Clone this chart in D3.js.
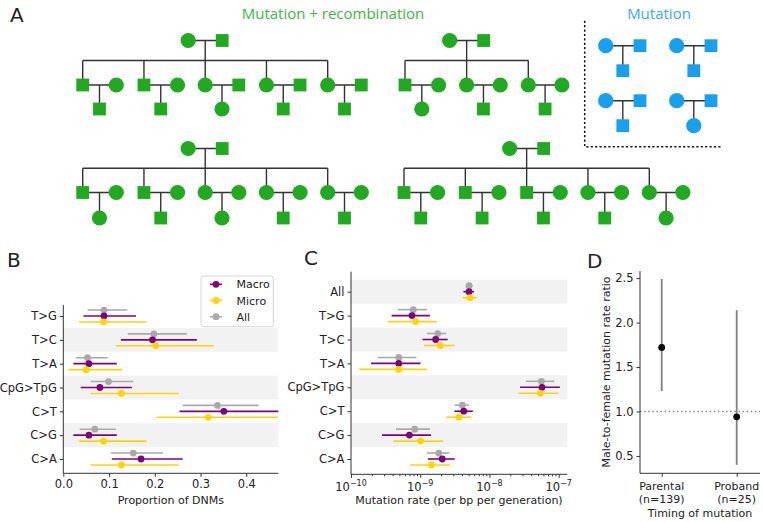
<!DOCTYPE html>
<html><head><meta charset="utf-8">
<script src="https://cdn.jsdelivr.net/npm/d3@7"></script>
<style>
body{margin:0;background:#fff}
text{font-family:"DejaVu Sans",sans-serif;fill:#222}
</style>
</head><body>
<svg id="fig" width="763" height="522"></svg>
<script>
// ---------------- DATA ----------------
// Panel A: pedigree structures (F = circle/female, M = square/male)
const pedChildren = [["M","M","F","F","F"],["M","F","F"],["M","M","F","F","F"],["M","M","M","F","F"]];
const pedSpouses  = [["F","F","M","M","M"],["F","F","F"],["F","F","F","F","F"],["F","F","F","F","F"]];
const pedGrandkids= [["M","M","F","M","M"],["F","M","M"],["F","M","F","M","M"],["M","M","M","M","F"]];
const trioChildren = ["M","M","M","F"];
const titleRecomb = "Mutation + recombination";
const titleMut = "Mutation";

// Panel B: proportion of DNMs
const catsB = ["T>G","T>C","T>A","CpG>TpG","C>T","C>G","C>A"];
const shadedRows = ["All","T>C","CpG>TpG","C>G"];
const seriesNames = ["Macro","Micro","All"];
const propAll     = [0.089,0.198,0.053,0.099,0.337,0.069,0.153];
const propAllLo   = [0.053,0.141,0.028,0.060,0.261,0.036,0.104];
const propAllHi   = [0.140,0.270,0.097,0.153,0.427,0.115,0.218];
const propMacro   = [0.089,0.195,0.056,0.080,0.351,0.056,0.170];
const propMacroLo = [0.044,0.126,0.022,0.038,0.254,0.022,0.106];
const propMacroHi = [0.159,0.292,0.117,0.150,0.480,0.117,0.261];
const propMicro   = [0.088,0.202,0.050,0.127,0.317,0.088,0.127];
const propMicroLo = [0.034,0.115,0.011,0.060,0.204,0.034,0.060];
const propMicroHi = [0.182,0.329,0.129,0.252,0.469,0.182,0.252];
const ticksB = [0.0,0.1,0.2,0.3,0.4];

// Panel C: mutation rate per bp per generation
const catsC = ["All","T>G","T>C","T>A","CpG>TpG","C>T","C>G","C>A"];
const rateAll     = [5.07e-9,7.94e-10,1.79e-9,4.89e-10,5.62e-8,4.06e-9,8.32e-10,1.85e-9];
const rateAllLo   = [4.54e-9,4.72e-10,1.25e-9,2.43e-10,3.37e-8,3.15e-9,4.47e-10,1.25e-9];
const rateAllHi   = [5.73e-9,1.25e-9,2.38e-9,8.79e-10,8.65e-8,5.07e-9,1.38e-9,2.61e-9];
const rateMacro   = [5.07e-9,7.60e-10,1.67e-9,4.89e-10,5.74e-8,4.25e-9,6.97e-10,2.08e-9];
const rateMacroLo = [4.20e-9,3.86e-10,1.08e-9,1.95e-10,2.76e-8,3.11e-9,2.81e-10,1.29e-9];
const rateMacroHi = [5.98e-9,1.38e-9,2.49e-9,1.01e-9,1.04e-7,5.73e-9,1.43e-9,3.15e-9];
const rateMicro   = [5.24e-9,8.60e-10,1.95e-9,4.89e-10,5.43e-8,3.63e-9,1.01e-9,1.45e-9];
const rateMicroLo = [4.10e-9,3.39e-10,1.13e-9,1.32e-10,2.61e-8,2.38e-9,4.09e-10,7.11e-10];
const rateMicroHi = [6.53e-9,1.75e-9,3.15e-9,1.25e-9,9.89e-8,5.41e-9,2.13e-9,2.69e-9];
const ticksC = [1e-10,1e-9,1e-8,1e-7];

// Panel D: male-to-female ratio
const catsD = ["Parental","Proband"];
const catsDsub = ["(n=139)","(n=25)"];
const ratio   = [1.72,0.94];
const ratioLo = [1.23,0.40];
const ratioHi = [2.49,2.14];
const ticksD = [0.5,1.0,1.5,2.0,2.5];

// ---------------- STYLE ----------------
const GREEN="#1faa1f", BLUE="#17a0ee", LINE="#333";
const colMacro="#800080", colMicro="#ffd500", colAll="#a9a9a9";
const svg = d3.select("#fig");

// ---------------- PANEL A ----------------
svg.append("text").attr("x",10).attr("y",22).attr("font-size",20).text("A");
svg.append("text").attr("x",333).attr("y",19).attr("text-anchor","middle")
  .attr("font-size",15).style("font-family","'Open Sans',sans-serif").style("fill","#3cb83c").text(titleRecomb);
svg.append("text").attr("x",659).attr("y",19).attr("text-anchor","middle")
  .attr("font-size",15).style("font-family","'Open Sans',sans-serif").style("fill","#3aa8ee").text(titleMut);

const gA = svg.append("g");
function sym(g,sex,x,y,fill){
  if(sex==="F") g.append("circle").attr("cx",x).attr("cy",y).attr("r",7.6).attr("fill",fill);
  else g.append("rect").attr("x",x-6.4).attr("y",y-6.4).attr("width",12.8).attr("height",12.8).attr("fill",fill);
}
function ln(g,x1,y1,x2,y2){
  g.append("line").attr("x1",x1).attr("y1",y1).attr("x2",x2).attr("y2",y2)
   .attr("stroke",LINE).attr("stroke-width",1.4);
}
const pedLayout = [
  {x0:82.7,x1:327.7,yPar:40.5,ySib:60.5,yKid:85,yGk:109},
  {x0:405,x1:528.3,yPar:40.5,ySib:60.5,yKid:85,yGk:109},
  {x0:82.7,x1:327.7,yPar:148.5,ySib:168.3,yKid:192.5,yGk:218},
  {x0:404,x1:649.3,yPar:148.5,ySib:168.3,yKid:192.5,yGk:218}
];
const spouseOff = 33.6;
pedLayout.forEach((L,p)=>{
  const kids = pedChildren[p];
  const xs = d3.scaleLinear().domain([0,kids.length-1]).range([L.x0,L.x1]);
  const mid = (L.x0+L.x1)/2;
  const lines = gA.append("g"), syms = gA.append("g");
  ln(lines,mid-17,L.yPar,mid+17,L.yPar);
  ln(lines,mid,L.yPar,mid,L.ySib);
  ln(lines,L.x0,L.ySib,L.x1,L.ySib);
  sym(syms,"F",mid-17,L.yPar,GREEN);
  sym(syms,"M",mid+17,L.yPar,GREEN);
  kids.forEach((s,i)=>{
    const x = xs(i);
    ln(lines,x,L.ySib,x,L.yKid);
    ln(lines,x,L.yKid,x+spouseOff,L.yKid);
    ln(lines,x+spouseOff/2,L.yKid,x+spouseOff/2,L.yGk);
    sym(syms,s,x,L.yKid,GREEN);
    sym(syms,pedSpouses[p][i],x+spouseOff,L.yKid,GREEN);
    sym(syms,pedGrandkids[p][i],x+spouseOff/2,L.yGk,GREEN);
  });
});
// trios
const trioX = [605.7,676.7], trioY=[45.7,100.7];
trioChildren.forEach((s,i)=>{
  const x = trioX[i%2], y = trioY[Math.floor(i/2)];
  const lines = gA.append("g"), syms = gA.append("g");
  ln(lines,x,y,x+34.3,y);
  ln(lines,x+17.1,y,x+17.1,y+25);
  sym(syms,"F",x,y,BLUE);
  sym(syms,"M",x+34.3,y,BLUE);
  sym(syms,s,x+17.1,y+25,BLUE);
});
gA.append("path").attr("d","M584.7,20.7V146.7H722").attr("fill","none")
  .attr("stroke","#111").attr("stroke-width",1.5).attr("stroke-dasharray","2.2,2.2");

// ---------------- helpers for B/C ----------------
const TF = 11.5;
function errRow(g,x,y,val,lo,hi,col){
  g.append("line").attr("x1",x(lo)).attr("x2",x(hi)).attr("y1",y).attr("y2",y)
   .attr("stroke",col).attr("stroke-width",1.6);
  g.append("circle").attr("cx",x(val)).attr("cy",y).attr("r",3.4).attr("fill",col);
}

// ---------------- PANEL B ----------------
svg.append("text").attr("x",7).attr("y",267).attr("font-size",20).text("B");
const xB = d3.scaleLinear().domain([0,0.47]).range([63.3,278.3]);
const yB = d3.scalePoint().domain(catsB).range([316,459]);
const sB = yB.step();
const gB = svg.append("g");
const clipB = svg.append("clipPath").attr("id","clipB");
clipB.append("rect").attr("x",63.3).attr("y",300).attr("width",215).attr("height",174);
catsB.filter(c=>shadedRows.includes(c)).forEach(c=>{
  gB.append("rect").attr("x",63.3).attr("width",215).attr("y",yB(c)-sB/2).attr("height",sB).attr("fill","#f2f2f2");
});
const gBd = gB.append("g").attr("clip-path","url(#clipB)");
catsB.forEach((c,i)=>{
  errRow(gBd,xB,yB(c)-0.25*sB,propAll[i],propAllLo[i],propAllHi[i],colAll);
  errRow(gBd,xB,yB(c),propMacro[i],propMacroLo[i],propMacroHi[i],colMacro);
  errRow(gBd,xB,yB(c)+0.25*sB,propMicro[i],propMicroLo[i],propMicroHi[i],colMicro);
});
// axes B
const axB = gB.append("g").attr("transform","translate(0,473.3)")
  .call(d3.axisBottom(xB).tickValues(ticksB).tickFormat(d3.format(".1f")).tickSize(3.5).tickPadding(3.5));
const ayB = gB.append("g").attr("transform","translate(63.3,0)")
  .call(d3.axisLeft(yB).tickSize(3.5).tickPadding(3));
[axB,ayB].forEach(a=>{a.select(".domain").remove();a.selectAll("text").attr("font-size",TF).style("font-family","DejaVu Sans").attr("fill","#222");a.selectAll("line").attr("stroke","#333");});
gB.append("path").attr("d","M63.3,305V473.3H278.3").attr("fill","none").attr("stroke","#333").attr("stroke-width",1);
gB.append("text").attr("x",170.8).attr("y",504).attr("text-anchor","middle").attr("font-size",11).text("Proportion of DNMs");
// legend
const lg = gB.append("g");
lg.append("rect").attr("x",201).attr("y",276).attr("width",72.3).attr("height",50.7).attr("rx",2.5)
  .attr("fill","#fff").attr("stroke","#d5d5d5").attr("stroke-width",1);
[colMacro,colMicro,colAll].forEach((col,i)=>{
  const y = 284.3+i*16.2;
  lg.append("line").attr("x1",210).attr("x2",222).attr("y1",y).attr("y2",y).attr("stroke",col).attr("stroke-width",1.6);
  lg.append("circle").attr("cx",216).attr("cy",y).attr("r",3.4).attr("fill",col);
  lg.append("text").attr("x",236.5).attr("y",y+4).attr("font-size",11).text(seriesNames[i]);
});

// ---------------- PANEL C ----------------
svg.append("text").attr("x",304).attr("y",265).attr("font-size",20).text("C");
const xC = d3.scaleLog().domain([1e-10,1.33e-7]).range([351,567.3]);
const yC = d3.scalePoint().domain(catsC).range([291.7,459]);
const sC = yC.step();
const gC = svg.append("g");
catsC.filter(c=>shadedRows.includes(c)).forEach(c=>{
  gC.append("rect").attr("x",351).attr("width",216.3).attr("y",yC(c)-sC/2).attr("height",sC).attr("fill","#f2f2f2");
});
catsC.forEach((c,i)=>{
  errRow(gC,xC,yC(c)-0.25*sC,rateAll[i],rateAllLo[i],rateAllHi[i],colAll);
  errRow(gC,xC,yC(c),rateMacro[i],rateMacroLo[i],rateMacroHi[i],colMacro);
  errRow(gC,xC,yC(c)+0.25*sC,rateMicro[i],rateMicroLo[i],rateMicroHi[i],colMicro);
});
// minor ticks
const minor = [];
[1e-10,1e-9,1e-8,1e-7].forEach(d=>{for(let k=2;k<10;k++){const v=d*k; if(v<=1.33e-7) minor.push(v);}});
const axCm = gC.append("g").attr("transform","translate(0,474.3)")
  .call(d3.axisBottom(xC).tickValues(minor).tickFormat("").tickSize(2));
const axC = gC.append("g").attr("transform","translate(0,474.3)")
  .call(d3.axisBottom(xC).tickValues(ticksC).tickFormat("").tickSize(3.5));
const ayC = gC.append("g").attr("transform","translate(351,0)")
  .call(d3.axisLeft(yC).tickSize(3.5).tickPadding(3));
[axCm,axC,ayC].forEach(a=>{a.select(".domain").remove();a.selectAll("text").attr("font-size",TF).style("font-family","DejaVu Sans").attr("fill","#222");a.selectAll("line").attr("stroke","#333");});
ticksC.forEach(v=>{
  const t = gC.append("text").attr("x",xC(v)).attr("y",491).attr("text-anchor","middle").attr("font-size",TF);
  t.append("tspan").text("10");
  t.append("tspan").attr("dy",-5).attr("font-size",8).text("\u2212"+Math.round(-Math.log10(v)));
});
gC.append("path").attr("d","M351,271.7V474.3H567.3").attr("fill","none").attr("stroke","#333").attr("stroke-width",1);
gC.append("text").attr("x",459).attr("y",504).attr("text-anchor","middle").attr("font-size",11).text("Mutation rate (per bp per generation)");

// ---------------- PANEL D ----------------
svg.append("text").attr("x",587).attr("y",268).attr("font-size",20).text("D");
const yD = d3.scaleLinear().domain([0.305,2.58]).range([473.3,271]);
const xD = d3.scalePoint().domain(catsD).range([661.7,736.7]);
const gD = svg.append("g");
gD.append("line").attr("x1",640).attr("x2",760).attr("y1",yD(1)).attr("y2",yD(1))
  .attr("stroke","#888").attr("stroke-width",1.3).attr("stroke-dasharray","1.5,2.6");
catsD.forEach((c,i)=>{
  gD.append("line").attr("x1",xD(c)).attr("x2",xD(c)).attr("y1",yD(ratioLo[i])).attr("y2",yD(ratioHi[i]))
    .attr("stroke","#808080").attr("stroke-width",1.8);
  gD.append("circle").attr("cx",xD(c)).attr("cy",yD(ratio[i])).attr("r",3.4).attr("fill","#000");
});
const ayD = gD.append("g").attr("transform","translate(640,0)")
  .call(d3.axisLeft(yD).tickValues(ticksD).tickFormat(d3.format(".1f")).tickSize(3.5).tickPadding(3));
const axD = gD.append("g").attr("transform","translate(0,473.3)")
  .call(d3.axisBottom(xD).tickSize(3.5).tickFormat(""));
[ayD,axD].forEach(a=>{a.select(".domain").remove();a.selectAll("text").attr("font-size",TF).style("font-family","DejaVu Sans").attr("fill","#222");a.selectAll("line").attr("stroke","#333");});
catsD.forEach((c,i)=>{
  gD.append("text").attr("x",xD(c)).attr("y",489.5).attr("text-anchor","middle").attr("font-size",11).text(c);
  gD.append("text").attr("x",xD(c)).attr("y",502.8).attr("text-anchor","middle").attr("font-size",11).text(catsDsub[i]);
});
gD.append("path").attr("d","M640,271V473.3H760").attr("fill","none").attr("stroke","#333").attr("stroke-width",1);
gD.append("text").attr("x",700).attr("y",516.5).attr("text-anchor","middle").attr("font-size",11).text("Timing of mutation");
gD.append("text").attr("transform","translate(610,372) rotate(-90)").attr("text-anchor","middle").attr("font-size",11).text("Male-to-female mutation rate ratio");
</script>
</body></html>
